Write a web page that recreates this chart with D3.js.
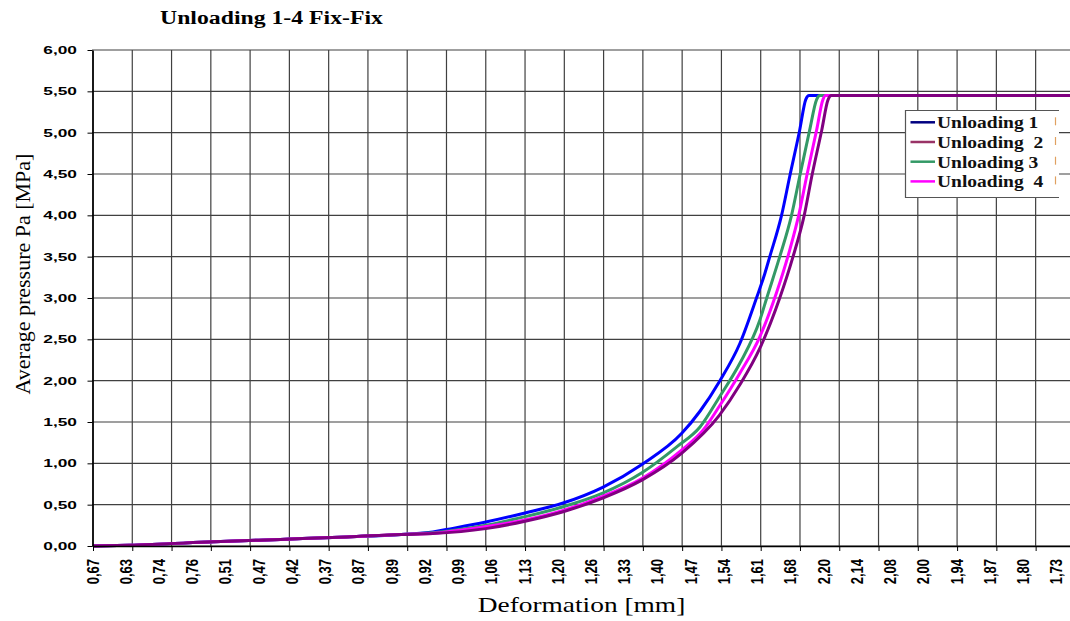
<!DOCTYPE html>
<meta charset="utf-8">
<script src="https://d3js.org/d3.v7.min.js"></script>
<style>
  body { margin: 0; background: #fff; }
  text { white-space: pre; }
</style>
<div id="chart"></div>
<script>
  // x axis is a category axis: one label every 11 samples, one gridline every 13
  var xLabels = ["0,67", "0,63", "0,74", "0,76", "0,51", "0,47", "0,42", "0,37", "0,87", "0,89",
    "0,92", "0,99", "1,06", "1,13", "1,20", "1,26", "1,33", "1,40", "1,47", "1,54",
    "1,61", "1,68", "2,20", "2,14", "2,08", "2,00", "1,94", "1,87", "1,80", "1,73"];
  var labelEvery = 11, gridEvery = 13, nSamples = 330;

  var yTicks = [0, 0.5, 1, 1.5, 2, 2.5, 3, 3.5, 4, 4.5, 5, 5.5, 6];

  // sample index / average pressure [MPa]
  var u1Pos = [0, 12, 40, 62, 84, 102, 112.5, 117, 130, 143, 155.6, 168.7, 181.8, 194.8, 200.9, 207.5, 214.1, 219.6, 222.4, 224, 227.9, 230.6, 233.9, 235.9, 237, 329];
  var u1Val = [0, 0.01, 0.05, 0.08, 0.11, 0.14, 0.17, 0.20, 0.29, 0.40, 0.52, 0.71, 0.99, 1.36, 1.63, 2.00, 2.45, 3.00, 3.30, 3.50, 4.00, 4.47, 5.03, 5.40, 5.45, 5.45];

  var u2Pos = [0, 12, 40, 62, 84, 102, 112.5, 130, 143, 155.6, 168.7, 181.8, 194.8, 207.3, 214.1, 220.7, 227.3, 231.7, 235.4, 237.9, 241.2, 243.3, 244.4, 329];
  var u2Val = [0, 0.01, 0.05, 0.08, 0.11, 0.14, 0.15, 0.21, 0.30, 0.415, 0.58, 0.80, 1.12, 1.58, 1.95, 2.39, 3.00, 3.50, 4.00, 4.47, 5.03, 5.40, 5.45, 5.45];

  var u3Pos = [0, 12, 40, 62, 84, 102, 112.5, 130, 143, 155.6, 168.7, 181.8, 193.2, 200.9, 207.3, 214.1, 220.7, 223, 227.3, 231.2, 233.9, 237.2, 239.5, 240.6, 329];
  var u3Val = [0, 0.01, 0.05, 0.08, 0.11, 0.14, 0.16, 0.25, 0.355, 0.475, 0.64, 0.89, 1.20, 1.44, 1.80, 2.21, 2.73, 3.00, 3.50, 4.00, 4.47, 5.03, 5.40, 5.45, 5.45];

  var u4Pos = [0, 12, 40, 62, 84, 102, 112.5, 130, 143, 155.6, 168.7, 181.8, 194.8, 201.9, 207.3, 214.1, 220.7, 226.2, 230.6, 233.7, 236.2, 239.5, 241.6, 242.5, 329];
  var u4Val = [0, 0.01, 0.05, 0.08, 0.11, 0.14, 0.155, 0.235, 0.315, 0.43, 0.60, 0.82, 1.16, 1.40, 1.69, 2.09, 2.53, 3.06, 3.58, 4.02, 4.47, 5.03, 5.40, 5.45, 5.45];

  var seriesNames = ["Unloading 1", "Unloading  2", "Unloading 3", "Unloading  4"];
  var lineColors = ["#0000ff", "#800080", "#339966", "#ff00ff"];
  var legendColors = ["#000080", "#993366", "#339966", "#ff00ff"];

  var series = [
    { pos: u1Pos, val: u1Val, color: lineColors[0] },
    { pos: u3Pos, val: u3Val, color: lineColors[2] },
    { pos: u4Pos, val: u4Val, color: lineColors[3] },
    { pos: u2Pos, val: u2Val, color: lineColors[1] }   // drawn last, it sits on top
  ];

  var svg = d3.select("#chart")
    .append("svg")
    .attr("width", 1070)
    .attr("height", 621);

  var x = d3.scaleLinear().domain([0, nSamples - 1]).range([93, 1087]);
  var y = d3.scaleLinear().domain([0, 6]).range([546, 50]);

  // grid
  svg.append("g")
    .selectAll("line")
    .data(yTicks)
    .enter().append("line")
    .attr("x1", 92).attr("x2", 1070)
    .attr("y1", function(d) { return y(d); })
    .attr("y2", function(d) { return y(d); })
    .attr("stroke", "#404040").attr("stroke-width", 1.2);

  svg.append("g")
    .selectAll("line")
    .data(d3.range(gridEvery, nSamples, gridEvery))
    .enter().append("line")
    .attr("x1", function(d) { return x(d); })
    .attr("x2", function(d) { return x(d); })
    .attr("y1", y(6)).attr("y2", y(0))
    .attr("stroke", "#404040").attr("stroke-width", 1.2);

  // curves
  var line = d3.line()
    .x(function(d) { return x(d[0]); })
    .y(function(d) { return y(d[1]); })
    .curve(d3.curveMonotoneX);

  svg.append("g")
    .selectAll("path")
    .data(series)
    .enter().append("path")
    .attr("d", function(s) { return line(d3.zip(s.pos, s.val)); })
    .attr("fill", "none")
    .attr("stroke", function(s) { return s.color; })
    .attr("stroke-width", 3);

  // y axis
  var yAxis = svg.append("g")
    .attr("transform", "translate(92.5,0)")
    .call(d3.axisLeft(y).tickValues(yTicks).tickSize(5).tickSizeOuter(0)
      .tickFormat(function(d) { return d3.format(".2f")(d).replace(".", ","); }));
  yAxis.select(".domain").attr("stroke", "#000").attr("stroke-width", 1.8);
  yAxis.selectAll(".tick line").attr("stroke", "#000");
  yAxis.selectAll(".tick text")
    .attr("x", 0)
    .attr("transform", "translate(-15.5,0) scale(1.65,1)")
    .attr("font-family", "Liberation Sans, Arial, sans-serif")
    .attr("font-weight", "bold")
    .attr("font-size", 10.5)
    .attr("fill", "#000");

  // x axis
  var xAxis = svg.append("g")
    .attr("transform", "translate(0,546)")
    .call(d3.axisBottom(x).tickValues(d3.range(0, nSamples, gridEvery)).tickSize(5).tickSizeOuter(0).tickFormat(""));
  xAxis.select(".domain").attr("stroke", "#000").attr("stroke-width", 1.5);
  xAxis.selectAll(".tick line").attr("stroke", "#000");

  svg.append("g")
    .selectAll("text")
    .data(xLabels)
    .enter().append("text")
    .attr("transform", function(d, i) {
      return "translate(" + (x(i * labelEvery) + 5.5) + ",559) rotate(-90) scale(1,1.2)";
    })
    .attr("text-anchor", "end")
    .attr("font-family", "Liberation Sans, Arial, sans-serif")
    .attr("font-weight", "bold")
    .attr("font-size", 13)
    .attr("fill", "#000")
    .text(function(d) { return d; });

  // titles
  svg.append("text")
    .attr("transform", "translate(160,24) scale(1.32,1)")
    .attr("font-family", "Liberation Serif, Times New Roman, serif")
    .attr("font-weight", "bold")
    .attr("font-size", 18)
    .text("Unloading 1-4 Fix-Fix");

  svg.append("text")
    .attr("transform", "translate(581.5,612) scale(1.37,1)")
    .attr("text-anchor", "middle")
    .attr("font-family", "Liberation Serif, Times New Roman, serif")
    .attr("font-size", 20)
    .text("Deformation [mm]");

  svg.append("text")
    .attr("transform", "translate(29.5,274) rotate(-90)")
    .attr("text-anchor", "middle")
    .attr("font-family", "Liberation Serif, Times New Roman, serif")
    .attr("font-size", 22)
    .text("Average pressure Pa [MPa]");

  // legend
  var legend = svg.append("g");
  legend.append("rect")
    .attr("x", 905).attr("y", 110.5).attr("width", 154).attr("height", 87)
    .attr("fill", "#fff");
  legend.append("path")
    .attr("d", "M1059,110.5H905.5V197.5H1059")
    .attr("fill", "none").attr("stroke", "#555").attr("stroke-width", 1.2);

  var rows = legend.selectAll(".row")
    .data(seriesNames)
    .enter().append("g")
    .attr("transform", function(d, i) { return "translate(0," + (128.3 + i * 19.7) + ")"; });
  rows.append("line")
    .attr("x1", 910.5).attr("x2", 935).attr("y1", -6).attr("y2", -6)
    .attr("stroke", function(d, i) { return legendColors[i]; })
    .attr("stroke-width", 2.5);
  rows.append("text")
    .attr("transform", "translate(937,0) scale(1.22,1)")
    .attr("font-family", "Liberation Serif, Times New Roman, serif")
    .attr("font-weight", "bold")
    .attr("font-size", 16)
    .attr("fill", "#111")
    .text(function(d) { return d; });
  rows.append("line")
    .attr("x1", 1055.5).attr("x2", 1055.5).attr("y1", -11).attr("y2", -3)
    .attr("stroke", "#e0a060").attr("stroke-width", 1.2);
</script>
